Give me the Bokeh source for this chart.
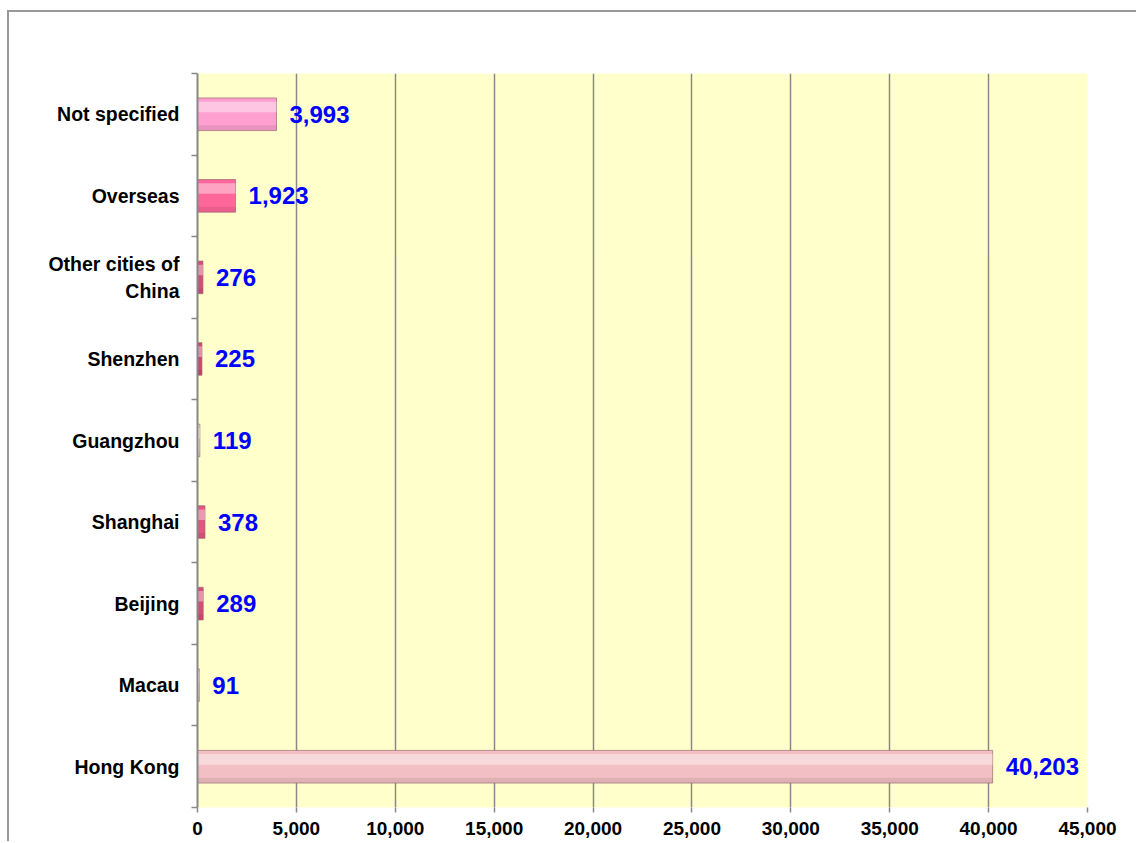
from bokeh.plotting import figure
from bokeh.models import Range1d, FixedTicker, NumeralTickFormatter, ColumnDataSource
from bokeh.transform import dodge
from bokeh.embed import file_html
from bokeh.resources import INLINE
from bokeh.core.properties import value

# ---- data ----
categories = ["Hong Kong", "Macau", "Beijing", "Shanghai", "Guangzhou",
              "Shenzhen", "Other cities of\nChina", "Overseas", "Not specified"]
counts = [40203, 91, 289, 378, 119, 225, 276, 1923, 3993]
count_labels = ["40,203", "91", "289", "378", "119", "225", "276", "1,923", "3,993"]
bar_colors = ["#F2C0C4", "#EDE3E3", "#DB4A74", "#E2567F", "#EFE3E6",
              "#CF456F", "#D94B79", "#FF6699", "#FFA0D0"]
x_ticks = [0, 5000, 10000, 15000, 20000, 25000, 30000, 35000, 40000, 45000]

ypos = [i + 0.5 for i in range(len(categories))]
src = ColumnDataSource(dict(y=ypos, v=counts, lab=count_labels, c=bar_colors, cat=categories))

# outer frame drawn as css border; figure content starts at (9, 12)
W, H = 1129, 831
p = figure(width=W, height=H, output_backend="svg", toolbar_location=None,
           x_range=Range1d(0, 45000), y_range=Range1d(0, 9),
           min_border_left=188, min_border_right=51, min_border_top=61, min_border_bottom=36)
p.styles = {"margin-left": "7px", "margin-top": "10px",
            "border-left": "2px solid #999999", "border-top": "2px solid #999999"}

p.background_fill_color = "#FFFFCC"
p.border_fill_color = "white"
p.outline_line_color = None

# bars
p.hbar(y="y", right="v", left=0, height=0.4, source=src, fill_color="c",
       line_color="#9A6A74", line_width=1, line_alpha=0.7)
# bevel highlight (upper part) and shade (lower part)
p.hbar(y=dodge("y", 0.09), right="v", left=0, height=0.13, source=src, fill_color="white",
       fill_alpha=0.4, line_color=None)
p.hbar(y=dodge("y", -0.165), right="v", left=0, height=0.06, source=src, fill_color="black",
       fill_alpha=0.08, line_color=None)

# value labels
p.text(x="v", y="y", text="lab", source=src, x_offset=13,
       text_font=value("Liberation Sans"), text_font_style="bold",
       text_font_size="24px", text_color="#0000FF",
       text_align="left", text_baseline="middle")

# x axis
xa = p.xaxis[0]
xa.ticker = FixedTicker(ticks=x_ticks)
xa.formatter = NumeralTickFormatter(format="0,0")
xa.axis_line_color = None
xa.major_tick_line_color = "#888888"
xa.major_tick_line_width = 1.5
xa.major_tick_out = 5
xa.major_tick_in = 0
xa.minor_tick_line_color = None
xa.major_label_text_font = "Liberation Sans"
xa.major_label_text_font_style = "bold"
xa.major_label_text_font_size = "19px"
xa.major_label_text_color = "black"
xa.major_label_standoff = 9

# y axis
ya = p.yaxis[0]
ya.ticker = FixedTicker(ticks=ypos, minor_ticks=list(range(len(categories) + 1)))
ya.major_label_overrides = {y: c for y, c in zip(ypos, categories)}
ya.axis_line_color = "#888888"
ya.axis_line_width = 2
ya.major_tick_line_color = None
ya.minor_tick_line_color = "#888888"
ya.minor_tick_line_width = 1.5
ya.minor_tick_out = 6
ya.minor_tick_in = 0
ya.major_label_text_font = "Liberation Sans"
ya.major_label_text_font_style = "bold"
ya.major_label_text_font_size = "19.5px"
ya.major_label_text_color = "black"
ya.major_label_standoff = 12

# grid
p.xgrid.ticker = FixedTicker(ticks=x_ticks)
p.xgrid.grid_line_color = "#888888"
p.xgrid.grid_line_width = 1.5
p.ygrid.grid_line_color = None

open("out.html", "w").write(file_html(p, INLINE))
